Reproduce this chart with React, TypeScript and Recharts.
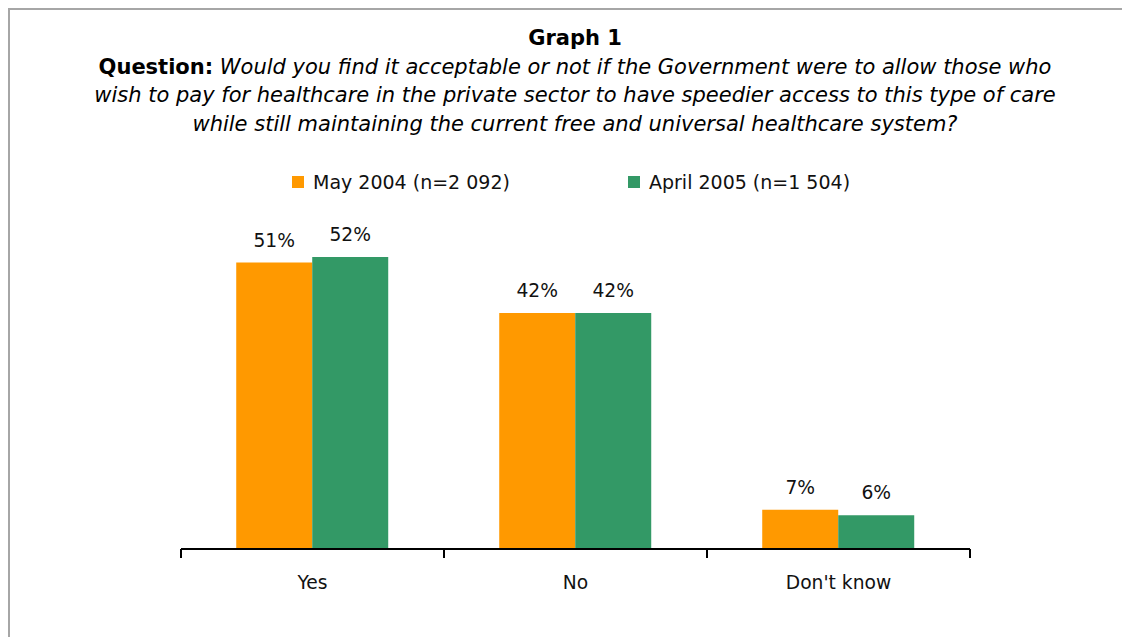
import React from "react";
import { BarChart, Bar, XAxis, YAxis, Legend, LabelList } from "recharts";

const categories = ["Yes", "No", "Don't know"];
const may2004 = [51, 42, 7];
const april2005 = [52, 42, 6];
const seriesNames = ["May 2004 (n=2 092)", "April 2005 (n=1 504)"];
const colors = ["#FF9900", "#339966"];

const data = categories.map((c, i) => ({ name: c, may: may2004[i], april: april2005[i] }));

const FONT = "'DejaVu Sans', Verdana, sans-serif";
const CHART_W = 1130;
const MARGIN = { top: 182, right: 160, bottom: 48, left: 181 };
const BAND = (CHART_W - MARGIN.left - MARGIN.right) / categories.length;

const LegendContent = () => (
  <div style={{ position: "relative", width: 1130, height: 30, fontFamily: FONT, fontSize: 19, color: "#111" }}>
    {seriesNames.map((n, i) => (
      <div key={n} style={{ position: "absolute", left: i === 0 ? 292 : 628, top: 0, height: 30, display: "flex", alignItems: "center", whiteSpace: "nowrap" }}>
        <span style={{ display: "inline-block", width: 12, height: 12, background: colors[i], marginRight: 9 }} />
        <span>{n}</span>
      </div>
    ))}
  </div>
);

const CatTick = (props: any) => {
  const { x, y, payload } = props;
  return (
    <g>
      <line x1={x - BAND / 2} x2={x - BAND / 2} y1={y} y2={y + 9} stroke="#000" strokeWidth={2} />
      <line x1={x + BAND / 2} x2={x + BAND / 2} y1={y} y2={y + 9} stroke="#000" strokeWidth={2} />
      <text x={x} y={y + 27} dy="0.71em" textAnchor="middle" fill="#111" fontSize={18.7} fontFamily={FONT}>
        {payload.value}
      </text>
    </g>
  );
};

export default function App() {
  return (
    <div style={{ position: "relative", width: 1130, height: 637, marginTop: -8, marginLeft: -8, overflow: "hidden", background: "#fff" }}>
      <div style={{ position: "absolute", left: 8, top: 8, width: 1140, height: 640, border: "2px solid #a6a6a6", boxSizing: "border-box" }} />
      <div style={{ position: "absolute", left: 0, top: 24, width: 1150, textAlign: "center", fontFamily: FONT, fontSize: 21, lineHeight: "28.5px", color: "#000" }}>
        <div style={{ fontWeight: "bold" }}>Graph 1</div>
        <div>
          <b>Question:</b> <i>Would you find it acceptable or not if the Government were to allow those who</i>
        </div>
        <div><i>wish to pay for healthcare in the private sector to have speedier access to this type of care</i></div>
        <div><i>while still maintaining the current free and universal healthcare system?</i></div>
      </div>
      <div style={{ position: "absolute", left: 0, top: 0 }}>
        <BarChart width={CHART_W} height={637} data={data} margin={MARGIN} barCategoryGap="21%" barGap={0}>
          <XAxis dataKey="name" height={40} tickLine={false} tickSize={0} tickMargin={0} axisLine={{ stroke: "#000", strokeWidth: 2 }} tick={<CatTick />} interval={0} />
          <YAxis hide domain={[0, 60]} />
          <Legend verticalAlign="top" content={<LegendContent />} wrapperStyle={{ top: 167, left: 0, width: 1130, height: 30 }} />
          <Bar dataKey="may" name={seriesNames[0]} fill={colors[0]} isAnimationActive={false}>
            <LabelList dataKey="may" position="top" offset={16} formatter={(v: number) => `${v}%`} style={{ fill: "#111", fontSize: 18.7, fontFamily: FONT }} />
          </Bar>
          <Bar dataKey="april" name={seriesNames[1]} fill={colors[1]} isAnimationActive={false}>
            <LabelList dataKey="april" position="top" offset={16} formatter={(v: number) => `${v}%`} style={{ fill: "#111", fontSize: 18.7, fontFamily: FONT }} />
          </Bar>
        </BarChart>
      </div>
    </div>
  );
}
